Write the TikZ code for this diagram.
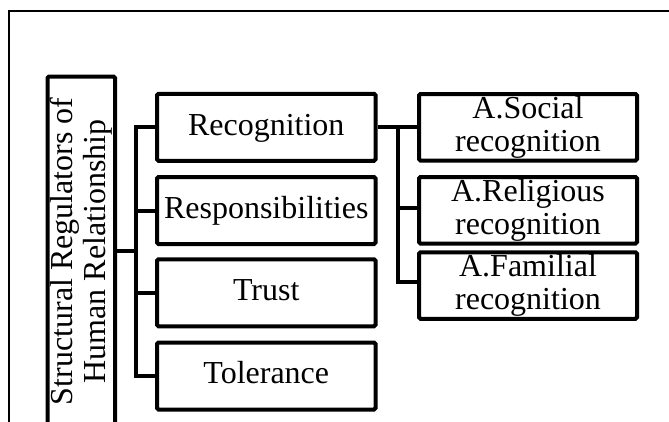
\documentclass[tikz,border=0pt]{standalone}
\usepackage{fontspec}
\setmainfont{Liberation Serif}
\begin{document}
\begin{tikzpicture}[x=1pt,y=-1pt,
  box/.style={draw, line width=4pt, rounded corners=1.5pt, inner sep=0pt,
    font=\fontsize{32}{33}\selectfont, align=center},
  leftbox/.style={box, minimum width=218.5pt, minimum height=67pt,
    text height=22.4pt, text depth=6.9pt},
  rightbox/.style={box, minimum width=218pt, minimum height=66.5pt},
  conn/.style={line width=4pt, line join=miter},
  frame/.style={line width=2pt}]
\useasboundingbox (0,0) rectangle (669,421);
\clip (0,0) rectangle (669,421);
\draw[frame] (9,440) -- (9,10.5) -- (690,10.5);
\node[box, rotate=90, minimum width=349.5pt, minimum height=67.5pt] (main) at (81.25,251.25)
  {Structural Regulators of\\Human Relationship};
\node[leftbox] (rec)   at (266.25,127.25) {Recognition};
\node[leftbox] (resp)  at (266.25,210.5)  {Responsibilities};
\node[leftbox] (trust) at (266.25,292.75) {Trust};
\node[leftbox] (tol)   at (266.25,376)    {Tolerance};
\node[rightbox] (soc) at (528,127.25) {A.Social\\recognition};
\node[rightbox] (rel) at (528,210.25) {A.Religious\\recognition};
\node[rightbox] (fam) at (528,285.5)  {A.Familial\\recognition};
\coordinate (t1) at (135.5,0);
\coordinate (t2) at (398.3,0);
\draw[conn] (main.south) -- (main.south -| t1);
\draw[conn] (rec.west) -- (rec.west -| t1) -- (tol.west -| t1) -- (tol.west);
\draw[conn] (resp.west -| t1) -- (resp.west);
\draw[conn] (trust.west -| t1) -- (trust.west);
\draw[conn] (rec.east) -- (soc.west);
\draw[conn] (rec.east -| t2) -- ([yshift=4pt]fam.west -| t2) -- ([yshift=4pt]fam.west);
\draw[conn] ([yshift=2pt]rel.west -| t2) -- ([yshift=2pt]rel.west);
\end{tikzpicture}
\end{document}
